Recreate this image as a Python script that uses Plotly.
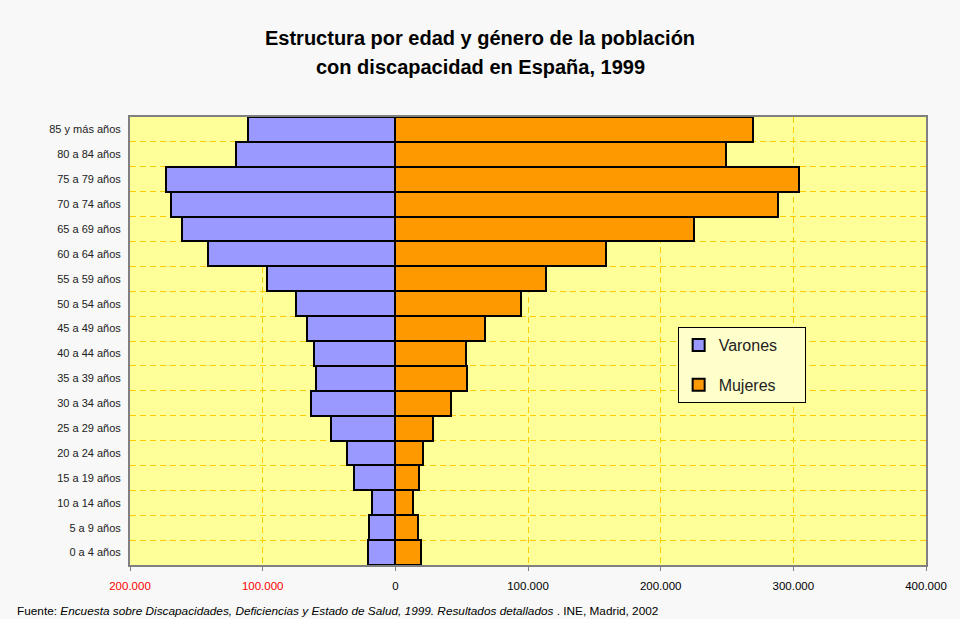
import plotly.graph_objects as go

edades = ["0 a 4 años", "5 a 9 años", "10 a 14 años", "15 a 19 años", "20 a 24 años",
          "25 a 29 años", "30 a 34 años", "35 a 39 años", "40 a 44 años", "45 a 49 años",
          "50 a 54 años", "55 a 59 años", "60 a 64 años", "65 a 69 años", "70 a 74 años",
          "75 a 79 años", "80 a 84 años", "85 y más años"]
varones = [20500, 19800, 17500, 31300, 36600, 48200, 63700, 60000, 61200, 66700,
           75000, 96600, 141500, 161000, 168900, 173000, 120200, 111000]
mujeres = [19000, 17000, 13500, 17800, 21000, 28300, 41900, 53900, 52900, 67900,
           94700, 113400, 159100, 224800, 288200, 304100, 249400, 269400]
x_ticks = [-200000, -100000, 0, 100000, 200000, 300000, 400000]
x_labels = ["<span style='color:#ff0000'>200.000</span>",
            "<span style='color:#ff0000'>100.000</span>",
            "0", "100.000", "200.000", "300.000", "400.000"]

pos = list(range(len(edades)))

fig = go.Figure()
fig.add_trace(go.Bar(
    y=pos, x=[-v for v in varones], orientation="h",
    name="Varones&nbsp;&nbsp;&nbsp;&nbsp;&nbsp;",
    marker=dict(color="#9999ff", line=dict(color="black", width=2)),
    legendgroup="v"))
fig.add_trace(go.Bar(
    y=pos, x=mujeres, orientation="h", name="Mujeres",
    marker=dict(color="#ff9900", line=dict(color="black", width=2)),
    legendgroup="m"))

grid = dict(color="#ffcc00", dash="6px,4px", width=1)

fig.update_layout(
    width=960, height=619,
    margin=dict(l=130, r=34, t=117, b=54),
    paper_bgcolor="#f7f8f7",
    plot_bgcolor="#ffff99",
    barmode="relative",
    bargap=0,
    font=dict(family="Liberation Sans, Arial, sans-serif", color="black"),
    showlegend=True,
    legend=dict(
        x=0.688, y=0.531, xanchor="left", yanchor="top",
        bgcolor="#ffffcc", bordercolor="black", borderwidth=1,
        font=dict(size=16, color="#222222"),
        tracegroupgap=16, traceorder="grouped",
        itemwidth=30,
    ),
    xaxis=dict(
        range=[-200000, 400000], tickvals=x_ticks, ticktext=x_labels,
        tickfont=dict(size=11.5, color="black"),
        showgrid=True, gridcolor=grid["color"], griddash=grid["dash"], gridwidth=1,
        zeroline=False,
        showline=True, linecolor="#808080", linewidth=2, mirror=True,
        ticks="outside", ticklen=4, tickcolor="#808080",
        ticklabelstandoff=5,
        fixedrange=True,
    ),
    yaxis=dict(
        range=[-0.5, len(edades) - 0.5], tickvals=pos, ticktext=edades,
        tickfont=dict(size=11, color="#222222"),
        showgrid=False, zeroline=False,
        showline=True, linecolor="#808080", linewidth=2, mirror=True,
        ticks="", ticklabelstandoff=5,
        minor=dict(tickvals=[p + 0.5 for p in pos[:-1]], showgrid=True,
                   gridcolor=grid["color"], griddash=grid["dash"], gridwidth=1,
                   ticks=""),
        fixedrange=True,
    ),
)

fig.add_annotation(text="<b>Estructura por edad y género de la población</b>",
                   xref="paper", yref="paper", x=(480 - 130) / 796, y=(565 - 38) / 448,
                   xanchor="center", yanchor="middle", showarrow=False,
                   font=dict(size=20, color="black"))
fig.add_annotation(text="<b>con discapacidad en España, 1999</b>",
                   xref="paper", yref="paper", x=(480 - 130) / 796, y=(565 - 67) / 448,
                   xanchor="center", yanchor="middle", showarrow=False,
                   font=dict(size=20, color="black"))
fig.add_annotation(
    text="Fuente: <i>Encuesta sobre Discapacidades, Deficiencias y Estado de Salud, 1999. "
         "Resultados detallados</i> . INE, Madrid, 2002",
    xref="paper", yref="paper", x=(15 - 130) / 796, y=(565 - 611) / 448,
    xanchor="left", yanchor="middle", showarrow=False,
    font=dict(size=11.8, color="black"))

fig.write_html("out.html")
